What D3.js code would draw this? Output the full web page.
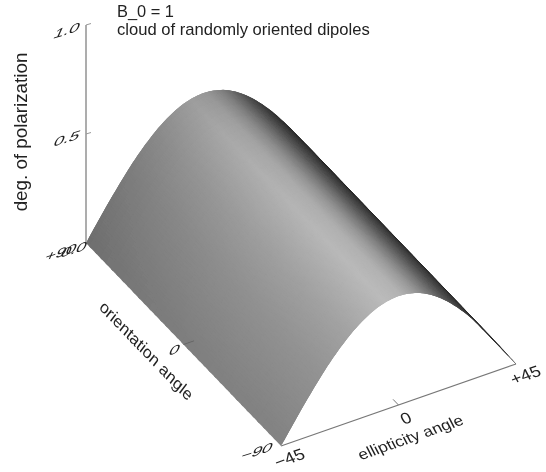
<!DOCTYPE html>
<html>
<head>
<meta charset="utf-8">
<script src="https://cdn.jsdelivr.net/npm/d3@7"></script>
<style>
  html, body { margin: 0; padding: 0; background: #fff; }
  text { font-family: "Liberation Sans", Arial, sans-serif; fill: #222; }
</style>
</head>
<body>
<div id="chart"></div>
<script>
// values
const ellipticity = [-45, -42.5, -40, -37.5, -35, -32.5, -30, -27.5, -25, -22.5, -20, -17.5, -15, -12.5, -10, -7.5, -5, -2.5, 0,
  2.5, 5, 7.5, 10, 12.5, 15, 17.5, 20, 22.5, 25, 27.5, 30, 32.5, 35, 37.5, 40, 42.5, 45];
const polarization = [0, 0.044, 0.087, 0.13, 0.171, 0.212, 0.25, 0.288, 0.322, 0.354, 0.383, 0.41, 0.433, 0.453, 0.47, 0.483, 0.492, 0.498, 0.5,
  0.498, 0.492, 0.483, 0.47, 0.453, 0.433, 0.41, 0.383, 0.354, 0.322, 0.288, 0.25, 0.212, 0.171, 0.13, 0.087, 0.044, 0];
const shadeKnots = [-45, -30, -20, -12, -6, 0, 5, 10, 15, 20, 25, 30, 45];
const shadeE = [126, 142, 156, 170, 180, 172, 150, 120, 92, 72, 58, 50, 44];
const orientation = [-90, -60, -30, 0, 30, 60, 90];
const shadeO = [1.04, 1.03, 1.02, 1.0, 0.97, 0.93, 0.87];

const zTicks = [0, 0.5, 1];
const zLabels = ["0.0", "0.5", "1.0"];
const eTicks = [-45, 0, 45];
const eLabels = ["\u221245", "0", "+45"];
const oTicks = [-90, 0, 90];
const oLabels = ["\u221290", "0", "+90"];

const width = 546, height = 472;

// oblique projection: each data axis gets a scale for its screen x and y
const exScale = d3.scaleLinear().domain([-45, 45]).range([0, 235]);
const eyScale = d3.scaleLinear().domain([-45, 45]).range([0, -82]);
const oxScale = d3.scaleLinear().domain([-90, 90]).range([281, 86]);
const oyScale = d3.scaleLinear().domain([-90, 90]).range([446, 243]);
const zScale = d3.scaleLinear().domain([0, 1]).range([0, -218]);

const project = (e, o, z) => [exScale(e) + oxScale(o), eyScale(e) + oyScale(o) + zScale(z)];

const heightAt = d3.scaleLinear().domain(ellipticity).range(polarization);
const shadeAtE = d3.scaleLinear().domain(shadeKnots).range(shadeE);
const shadeAtO = d3.scaleLinear().domain(orientation).range(shadeO);

const svg = d3.select("#chart").append("svg")
  .attr("width", width)
  .attr("height", height)
  .style("display", "block");

// the reference is a slightly soft scan
svg.append("defs").append("filter").attr("id", "soft")
  .attr("x", 0).attr("y", 0).attr("width", width).attr("height", height)
  .attr("filterUnits", "userSpaceOnUse")
  .append("feGaussianBlur").attr("stdDeviation", 0.45);

const root = svg.append("g").attr("filter", "url(#soft)");
root.append("rect").attr("width", width).attr("height", height).attr("fill", "#fff");

const line = d3.line();

// surface, painted from the far side to the near side. Each cell runs on under
// the cell painted after it so no white seams show.
const surface = root.append("g");
const eStep = 0.5, oStep = 5;
d3.range(45 - eStep, -45 - 0.01, -eStep).forEach(e => {
  d3.range(90 - oStep, -90 - 0.01, -oStep).forEach(o => {
    const v = Math.round(Math.min(255, shadeAtE(e + eStep / 2) * shadeAtO(o + oStep / 2)));
    const e1 = Math.min(45, e + eStep * 3);
    const o1 = Math.min(90, o + oStep + 2);
    surface.append("path")
      .attr("d", line([
        project(e, o, heightAt(e)),
        project(e + eStep, o, heightAt(e + eStep)),
        project(e1, o, heightAt(e1)),
        project(e1, o1, heightAt(e1)),
        project(e + eStep, o1, heightAt(e + eStep)),
        project(e, o1, heightAt(e))
      ]) + "Z")
      .attr("fill", `rgb(${v},${v},${v})`);
  });
});

// axes
const axes = root.append("g").attr("fill", "none");
axes.append("path")
  .attr("d", line([project(-45, 90, 0), project(-45, 90, 1)]))
  .attr("stroke", "#999").attr("stroke-width", 1.6);
axes.append("path")
  .attr("d", line([project(-45, -90, 0), project(45, -90, 0)]))
  .attr("stroke", "#777").attr("stroke-width", 1.2);

zTicks.slice(1).forEach(z => {
  const p = project(-45, 90, z);
  axes.append("path").attr("d", line([p, [p[0] + 5, p[1] - 1.5]]))
    .attr("stroke", "#999").attr("stroke-width", 1);
});
eTicks.slice(1).forEach(e => {
  axes.append("path").attr("d", line([project(e, -90, 0), project(e, -85, 0)]))
    .attr("stroke", "#777").attr("stroke-width", 1);
});
axes.append("path").attr("d", line([project(-45, 0, 0), project(-41, 0, 0)]))
  .attr("stroke", "#666").attr("stroke-width", 1);

// text that lies in the base plane of the plot
const alongE = "matrix(0.94,-0.33,0.42,0.8,";
const leanFwd = "matrix(1.15,-0.35,-0.38,0.85,";

function planeText(label, x, y, m, size, anchor) {
  root.append("text")
    .attr("transform", `${m}${x},${y})`)
    .attr("text-anchor", anchor || "middle")
    .style("font-size", size + "px")
    .text(label);
}

const tickOffsetsE = [[11, 17], [10, 18], [12, 16]];
eLabels.forEach((t, i) => {
  const p = project(eTicks[i], -90, 0);
  planeText(t, p[0] + tickOffsetsE[i][0], p[1] + tickOffsetsE[i][1], alongE, 18);
});
const tickOffsetsO = [[-26, 10], [-11, 10], [-27, 14]];
oLabels.forEach((t, i) => {
  const p = project(-45, oTicks[i], 0);
  planeText(t, p[0] + tickOffsetsO[i][0], p[1] + tickOffsetsO[i][1], leanFwd, 16);
});
const tickOffsetsZ = [[-14, 11], [-21, 9], [-21, 10]];
zLabels.forEach((t, i) => {
  const p = project(-45, 90, zTicks[i]);
  planeText(t, p[0] + tickOffsetsZ[i][0], p[1] + tickOffsetsZ[i][1], leanFwd, 16);
});

planeText("ellipticity angle", 413, 442, alongE, 17);
planeText("orientation angle", 143, 355, "matrix(0.69,0.72,-0.55,0.72,", 17.5);

// titles
root.append("text").attr("x", 117).attr("y", 17).style("font-size", "16.4px").text("B_0 = 1");
root.append("text").attr("x", 117).attr("y", 35).style("font-size", "16.6px").text("cloud of randomly oriented dipoles");
root.append("text")
  .attr("transform", "translate(27,132) rotate(-90)")
  .attr("text-anchor", "middle")
  .style("font-size", "18.8px")
  .text("deg. of polarization");
</script>
</body>
</html>
